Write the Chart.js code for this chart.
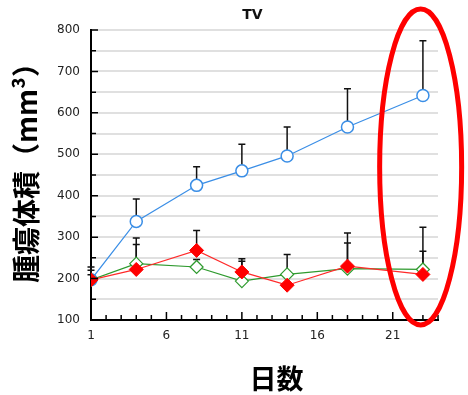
<!DOCTYPE html>
<html>
<head>
<meta charset="utf-8">
<style>
html,body{margin:0;padding:0;background:#fff;}
#wrap{width:468px;height:395px;position:relative;}
</style>
<script src="https://cdn.jsdelivr.net/npm/chart.js@4/dist/chart.umd.min.js"></script>
</head>
<body>
<div id="wrap"><canvas id="c" width="468" height="395"></canvas></div>
<script>
// ---- data ----
const chartTitle = 'TV';
const xTitle = '日数';
const yTitle = '腫瘍体積（mm³）';
const days = [1, 4, 8, 11, 14, 18, 23];
const xTickLabels = [1, 6, 11, 16, 21];
const yTickLabels = [100, 200, 300, 400, 500, 600, 700, 800];

const blueMean = [197, 338, 425, 460, 496, 566, 642];
const blueSD   = [23, 54, 45, 64, 70, 92, 132];

const redMean  = [197, 222, 268, 216, 184, 230, 210];
const redSD    = [31, 60, 48, 32, 22, 80, 114];

const greenMean = [197, 236, 228, 194, 210, 224, 222];
const greenSD   = [12, 62, 18, 48, 48, 62, 44];

// ---- helpers ----
function pts(vals){ return days.map((d,i)=>({x:d, y:vals[i]})); }

const errorBars = {
  id:'errorBars',
  beforeDatasetsDraw(chart){
    const {ctx, scales:{x, y}} = chart;
    ctx.save();
    ctx.strokeStyle = '#111';
    ctx.lineWidth = 1.5;
    chart.data.datasets.forEach(ds=>{
      ds.sd.forEach((s,i)=>{
        const px = x.getPixelForValue(days[i]);
        const p0 = y.getPixelForValue(ds.mean[i]);
        const p1 = y.getPixelForValue(ds.mean[i] + s);
        ctx.beginPath();
        ctx.moveTo(px, p0); ctx.lineTo(px, p1);
        ctx.moveTo(px-3.5, p1); ctx.lineTo(px+3.5, p1);
        ctx.stroke();
      });
    });
    ctx.restore();
  }
};

const decor = {
  id:'decor',
  afterDraw(chart){
    const {ctx, chartArea:ca, scales:{x, y}} = chart;
    ctx.save();
    // inward tick marks
    ctx.strokeStyle = '#000';
    ctx.lineWidth = 1.5;
    ctx.beginPath();
    x.ticks.forEach(t=>{
      const px = x.getPixelForValue(t.value);
      const major = xTickLabels.includes(t.value);
      ctx.moveTo(px, ca.bottom);
      ctx.lineTo(px, ca.bottom - (major ? 8 : 5));
    });
    y.ticks.forEach(t=>{
      const py = y.getPixelForValue(t.value);
      const major = yTickLabels.includes(t.value);
      ctx.moveTo(ca.left, py);
      ctx.lineTo(ca.left + (major ? 7 : 5), py);
    });
    ctx.stroke();
    // title
    ctx.fillStyle = '#111';
    ctx.font = 'bold 14px "DejaVu Sans"';
    ctx.textAlign = 'center';
    ctx.textBaseline = 'middle';
    ctx.fillText(chartTitle, (ca.left+ca.right)/2 - 12, ca.top - 15);
    // x title
    ctx.fillStyle = '#000';
    ctx.font = 'bold 27px "Noto Sans CJK JP"';
    ctx.fillText(xTitle, (ca.left+ca.right)/2 + 12, ca.bottom + 59);
    // y title (rotated)
    ctx.save();
    ctx.translate(26, (ca.top+ca.bottom)/2 - 9);
    ctx.rotate(-Math.PI/2);
    ctx.font = 'bold 28px "Noto Sans CJK JP"';
    ctx.fillText(yTitle, 0, 0);
    ctx.restore();
    // annotation ellipse
    ctx.strokeStyle = '#ff0000';
    ctx.lineWidth = 5;
    ctx.beginPath();
    ctx.ellipse(x.getPixelForValue(22.85), (ca.top+ca.bottom)/2 - 8, 41, 158, 0, 0, Math.PI*2);
    ctx.stroke();
    ctx.restore();
  }
};

new Chart(document.getElementById('c'), {
  type:'line',
  data:{
    datasets:[
      {label:'red', data:pts(redMean), mean:redMean, sd:redSD, order:0,
       borderColor:'#ff2a2a', borderWidth:1.2, pointStyle:'rectRot', pointRadius:7,
       pointBackgroundColor:'#ff0000', pointBorderColor:'#ff0000', pointBorderWidth:1, tension:0},
      {label:'green', data:pts(greenMean), mean:greenMean, sd:greenSD, order:1,
       borderColor:'#2e9a2e', borderWidth:1.2, pointStyle:'rectRot', pointRadius:6.5,
       pointBackgroundColor:'#ffffff', pointBorderColor:'#2e9a2e', pointBorderWidth:1.2, tension:0},
      {label:'blue', data:pts(blueMean), mean:blueMean, sd:blueSD, order:2,
       borderColor:'#3a8ee6', borderWidth:1.2, pointStyle:'circle', pointRadius:6,
       pointBackgroundColor:'#ffffff', pointBorderColor:'#3a8ee6', pointBorderWidth:1.5, tension:0}
    ]
  },
  options:{
    responsive:false,
    animation:false,
    devicePixelRatio:1,
    layout:{padding:{top:30, right:30, left:0, bottom:0}},
    plugins:{legend:{display:false}, tooltip:{enabled:false}, title:{display:false}},
    scales:{
      x:{
        type:'linear', min:1, max:24,
        afterFit(s){ s.height = 75; },
        grid:{display:false, drawTicks:false},
        border:{display:true, color:'#000', width:2},
        ticks:{stepSize:1, autoSkip:false, maxRotation:0, padding:9,
          color:'#222', font:{family:'DejaVu Sans', size:12},
          callback:v=> xTickLabels.includes(v) ? String(v) : ''}
      },
      y:{
        min:100, max:800,
        afterFit(s){ s.width = 91; },
        grid:{color:'#e0e0e0', lineWidth:2, drawTicks:false},
        border:{display:true, color:'#000', width:2},
        ticks:{stepSize:50, autoSkip:false, padding:11,
          color:'#222', font:{family:'DejaVu Sans', size:12},
          callback:v=> yTickLabels.includes(v) ? String(v) : ''}
      }
    }
  },
  plugins:[errorBars, decor]
});
</script>
</body>
</html>
